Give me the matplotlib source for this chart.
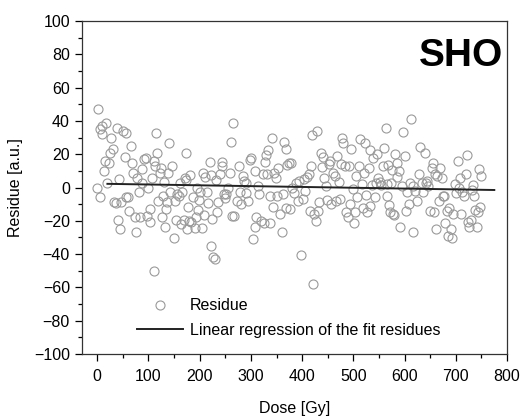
import matplotlib
matplotlib.use('Agg')
import matplotlib.pyplot as plt
from matplotlib.ticker import MultipleLocator

plt.rcParams['font.family'] = ['Liberation Sans', 'DejaVu Sans']

# residues (dose in Gy, residue in a.u.)
dose = [1, 0, 5, 6, 9, 10, 18, 14, 16, 20, 23, 25, 28, 31, 32, 36, 38, 40, 43, 45,
        47, 51, 54, 57, 57, 61, 63, 67, 68, 70, 73, 76, 78, 81, 83, 87, 88, 92, 95, 98,
        100, 103, 104, 107, 110, 110, 113, 114, 117, 119, 122, 124, 126, 128, 131, 132, 134, 136, 138, 141,
        143, 147, 150, 152, 154, 156, 159, 162, 164, 166, 169, 171, 173, 174, 175, 178, 180, 182, 184, 187,
        190, 192, 194, 196, 199, 201, 205, 207, 209, 211, 214, 217, 220, 222, 223, 225, 227, 230, 231, 234,
        236, 239, 243, 244, 247, 249, 252, 255, 259, 261, 264, 266, 268, 272, 276, 278, 281, 284, 287, 290,
        291, 294, 298, 301, 305, 308, 310, 309, 314, 316, 320, 323, 325, 327, 330, 332, 334, 337, 338, 341,
        344, 345, 349, 351, 353, 356, 360, 362, 365, 368, 368, 371, 375, 378, 376, 380, 385, 388, 391, 393,
        398, 401, 403, 406, 409, 413, 416, 417, 419, 421, 424, 427, 429, 431, 433, 437, 439, 441, 443, 446,
        449, 452, 454, 457, 461, 464, 466, 468, 471, 474, 475, 478, 480, 483, 486, 489, 492, 494, 496, 499,
        501, 503, 506, 508, 511, 513, 516, 518, 521, 523, 525, 527, 530, 532, 533, 537, 539, 542, 544, 547,
        549, 551, 554, 557, 560, 563, 565, 566, 568, 569, 571, 574, 576, 578, 580, 582, 585, 586, 589, 591,
        594, 597, 600, 602, 605, 608, 611, 613, 616, 617, 621, 625, 629, 630, 633, 636, 639, 641, 643, 646,
        650, 653, 655, 657, 659, 662, 664, 667, 669, 672, 674, 676, 679, 682, 684, 687, 690, 692, 695, 698,
        700, 704, 706, 709, 710, 712, 715, 719, 722, 724, 726, 729, 731, 734, 736, 738, 741, 743, 746, 747,
        749]
residue = [47, 0, -6, 35, 37, 32, 38.5, 10, 16, 3, 15, 21, 29.5, 23, -8.5, -9.5, 35.5, -19.5, 5, -25,
           -9, 34, 18.5, 33, -5.5, -6, -14, 25, 14.5, 9, -17.5, -26.5, 6, -2.5, -17.5, 2.5, 11, 17, 18, -17,
           0, -20.5, -13, 6, 16, -50, 13, 33, 20.5, -8, 9, 12, -17.5, -5, 3.5, -23.5, -13, -9, 9, 27,
           -2.5, 13, -30.5, -8, -19.5, -4, -5, 2.5, -22, -3, -19.5, 6, 4.5, 20.5, -25, -12, -20, 7.5, -21, -5.5,
           -24.5, -17.5, 0, -13.5, -7.5, -3, -24.5, 8.5, -16.5, 6.5, -3, -9.5, 15.5, 7.5, -35, -19, -42, -43, 4.5, -14.5,
           -9, 8, 15.5, 13, -4, -6.5, -4, 0, 9, 27.5, -17, 39, -17, -8, 13, -2.5, -10, 7, 4, -3.5,
           3, -8, 16.5, 17.5, -31, 10, -17.5, -24, 1, -4, -20, 8, -21.5, 15.5, 19.5, 8, 22.5, -5, -21.5, 30,
           -12, 9, 6, -5, 12, -16, -26.5, -4, 27.5, 23, -12.5, 13.5, 14.5, 14.5, -13, 0, -3.5, 3, -8, 4,
           -40.5, -7, 5, -2, 6.5, 8, -14, 13, 31.5, -58, -16, -20, 34, -14, -9, 20.5, 12.5, 18.5, 6, 1,
           -7.5, 14, 16, -10, 8.5, 7, -8, 19, 3.5, -7, 14, 29.5, 27, 13, -15, -17.5, 13, -10, 23, -1,
           -21.5, -15, 7, -6, 13, 29, 2, -12.5, 9, 27, -4.5, -14.5, 11.5, 22.5, -11, 1.5, 17.5, -6, 3, 20,
           5.5, 3.5, 1.5, 13, 24, 36, -5, 2, 13.5, -10.5, -15, 2.5, 10.5, -16, -16.5, 20, 15, 6.5, 10, -24,
           1, 33.5, 19, -14, -2.5, -10, 3, 41, -27, 1, -2, -8, 8, 24.5, 3, -2.5, 21, 3, 4, 1,
           -14, 12, 15, -14.5, 8, -25, 7, -8, 11.5, 6, -5, -5, -21.5, -14, -29, -12.5, -25, -30.5, -16, 2,
           -3.5, 16, 0, 5.5, -16, -3, -5, 8, 19.5, -21, -24, -19.5, -1.5, 1.5, -5, -13.5, -24, -15, 11, -12,
           7]

# linear regression of the fit residues (end points)
fit_dose = [20, 775]
fit_residue = [2.2, -1.5]

fig = plt.figure(figsize=(5.31, 4.19), dpi=100)
ax = fig.add_axes([0.154, 0.155, 0.801, 0.795])

ax.plot(dose, residue, 'o', mfc='none', mec='#9a9a9a', mew=0.8, ms=6.5,
        label='Residue')
ax.plot(fit_dose, fit_residue, '-', color='#222222', lw=1.4,
        label='Linear regression of the fit residues')

ax.set_xlim(-30, 800)
ax.set_ylim(-100, 100)
ax.xaxis.set_major_locator(MultipleLocator(100))
ax.xaxis.set_minor_locator(MultipleLocator(50))
ax.yaxis.set_major_locator(MultipleLocator(20))
ax.yaxis.set_minor_locator(MultipleLocator(10))
ax.tick_params(which='major', direction='out', length=5, width=0.9, labelsize=11.5)
ax.tick_params(which='minor', direction='out', length=3, width=0.9)
ax.tick_params(axis='x', pad=6)
for s in ax.spines.values():
    s.set_linewidth(0.9)
    s.set_color('#333333')

ax.set_xlabel('Dose [Gy]', fontsize=11.5, labelpad=12)
ax.set_ylabel('Residue [a.u.]', fontsize=11.5, labelpad=8)

ax.text(0.99, 0.895, 'SHO', transform=ax.transAxes, ha='right', va='center',
        fontsize=28, fontweight='bold')

ax.legend(loc='lower left', bbox_to_anchor=(0.095, 0.005), frameon=False,
          fontsize=11.5, handlelength=2.9, handletextpad=0.45, labelspacing=0.6)

fig.savefig('out.png', dpi=100)
